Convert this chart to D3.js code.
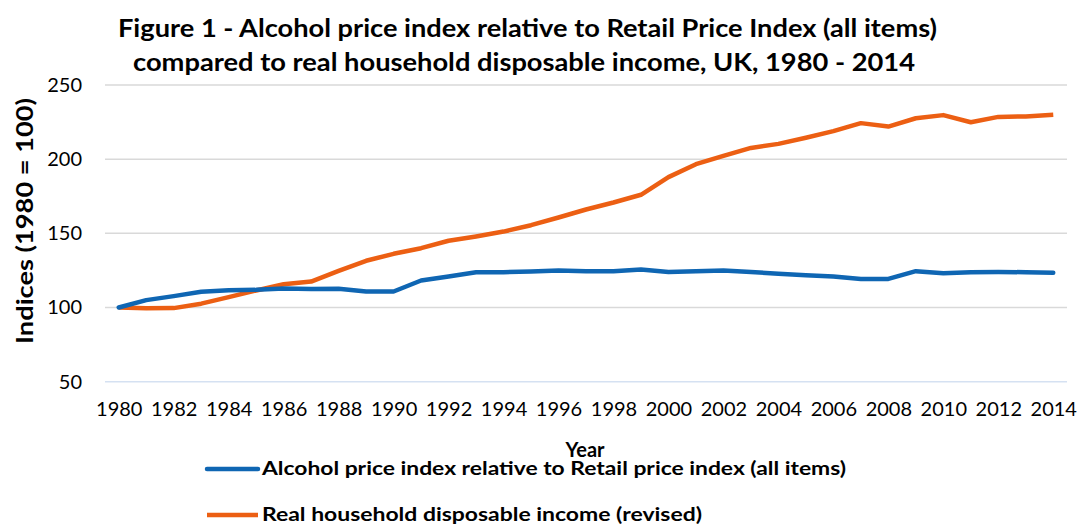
<!DOCTYPE html>
<html>
<head>
<meta charset="utf-8">
<script src="https://cdn.jsdelivr.net/npm/d3@7"></script>
<style>
  html, body { margin: 0; padding: 0; background: #fff; }
  svg { display: block; }
  text { font-family: Lato, "Open Sans", sans-serif; fill: #000; }
</style>
</head>
<body>
<svg id="chart"></svg>
<script>
// categories
const years = [1980, 1981, 1982, 1983, 1984, 1985, 1986, 1987, 1988, 1989,
               1990, 1991, 1992, 1993, 1994, 1995, 1996, 1997, 1998, 1999,
               2000, 2001, 2002, 2003, 2004, 2005, 2006, 2007, 2008, 2009,
               2010, 2011, 2012, 2013, 2014]

// alcohol price index relative to RPI (1980 = 100)
const alcohol = [100, 105.0, 107.7, 110.6, 111.6, 111.9, 112.8, 112.5, 112.6, 110.8,
                 110.8, 118.2, 120.9, 123.8, 123.8, 124.3, 124.9, 124.5, 124.5, 125.6,
                 124.0, 124.5, 124.9, 124.0, 122.7, 121.8, 120.9, 119.3, 119.3, 124.5,
                 123.1, 123.8, 124.0, 123.8, 123.4]

// real household disposable income (revised)
const income = [100, 99.5, 99.6, 102.6, 107.0, 111.5, 115.7, 117.5, 124.7, 131.5,
                136.2, 140.0, 145.0, 147.9, 151.2, 155.5, 160.7, 166.1, 170.8, 176.0,
                187.9, 196.6, 202.2, 207.6, 210.3, 214.4, 218.9, 224.3, 222.0, 227.6,
                229.7, 224.9, 228.5, 228.8, 229.9]

const yTicks = [50, 100, 150, 200, 250]
const xTicks = years.filter((d, i) => i % 2 === 0)

const seriesNames = ["Alcohol price index relative to Retail price index (all items)",
                     "Real household disposable income (revised)"]
const titleLines = ["Figure 1 - Alcohol price index relative to Retail Price Index (all items)",
                    "compared to real household disposable income, UK, 1980 - 2014"]

const width = 1080
const height = 525
const plot = { left: 105, right: 1067, top: 85, bottom: 381.7 }

const svg = d3.select("#chart")
    .attr("width", width)
    .attr("height", height)

const x = d3.scalePoint()
    .domain(years)
    .range([plot.left, plot.right])
    .padding(0.5)

const y = d3.scaleLinear()
    .domain([50, 250])
    .range([plot.bottom, plot.top])

// gridlines (the 50 one is the category axis line, light blue)
svg.append("g")
    .selectAll("line")
    .data(yTicks)
    .join("line")
        .attr("x1", plot.left)
        .attr("x2", plot.right)
        .attr("y1", d => y(d))
        .attr("y2", d => y(d))
        .attr("stroke", d => d === 50 ? "#d5e1f2" : "#d9d9d9")
        .attr("stroke-width", 1.5)

// y axis labels
const yAxis = svg.append("g")
    .attr("transform", `translate(${plot.left}, 0)`)
    .call(d3.axisLeft(y).tickValues(yTicks).tickSize(0).tickPadding(23))
yAxis.select(".domain").remove()
yAxis.selectAll("text")
    .attr("font-size", 20)
    .attr("font-family", "Lato")
    .attr("fill", "#000")

// x axis labels
const xAxis = svg.append("g")
    .attr("transform", `translate(0, ${plot.bottom})`)
    .call(d3.axisBottom(x).tickValues(xTicks).tickSize(0).tickPadding(20))
xAxis.select(".domain").remove()
xAxis.selectAll("text")
    .attr("font-size", 20)
    .attr("font-family", "Lato")
    .attr("fill", "#000")

// lines
const line = d3.line()
    .x((d, i) => x(years[i]))
    .y(d => y(d))

svg.append("path")
    .datum(income)
    .attr("fill", "none")
    .attr("stroke", "#ec5f13")
    .attr("stroke-width", 4.5)
    .attr("stroke-linejoin", "round")
    .attr("d", line)

svg.append("path")
    .datum(alcohol)
    .attr("fill", "none")
    .attr("stroke", "#0f66b3")
    .attr("stroke-width", 4.5)
    .attr("stroke-linejoin", "round")
    .attr("stroke-linecap", "round")
    .attr("d", line)

// title
svg.append("g")
    .selectAll("text")
    .data(titleLines)
    .join("text")
        .attr("x", (d, i) => i === 0 ? 118 : 133)
        .attr("y", (d, i) => i === 0 ? 37 : 71)
        .attr("textLength", (d, i) => i === 0 ? 819 : 782)
        .attr("lengthAdjust", "spacingAndGlyphs")
        .attr("font-size", 24)
        .attr("font-weight", "bold")
        .text(d => d)

// axis titles
svg.append("text")
    .attr("transform", "translate(33, 221) rotate(-90)")
    .attr("text-anchor", "middle")
    .attr("textLength", 246)
    .attr("lengthAdjust", "spacingAndGlyphs")
    .attr("font-size", 22)
    .attr("font-weight", "bold")
    .text("Indices (1980 = 100)")

svg.append("text")
    .attr("x", 585)
    .attr("y", 457)
    .attr("text-anchor", "middle")
    .attr("font-size", 20)
    .attr("font-weight", "bold")
    .text("Year")

// legend
const legend = svg.append("g")
    .selectAll("g")
    .data(seriesNames)
    .join("g")
        .attr("transform", (d, i) => `translate(0, ${i === 0 ? 469 : 515})`)

legend.append("line")
    .attr("x1", 207)
    .attr("x2", 258)
    .attr("stroke", (d, i) => i === 0 ? "#0f66b3" : "#ec5f13")
    .attr("stroke-width", 4.5)
    .attr("stroke-linecap", (d, i) => i === 0 ? "round" : "butt")

legend.append("text")
    .attr("x", 262)
    .attr("y", 6)
    .attr("textLength", (d, i) => i === 0 ? 584 : 440)
    .attr("lengthAdjust", "spacingAndGlyphs")
    .attr("font-size", 19)
    .attr("font-weight", "bold")
    .text(d => d)
</script>
</body>
</html>
